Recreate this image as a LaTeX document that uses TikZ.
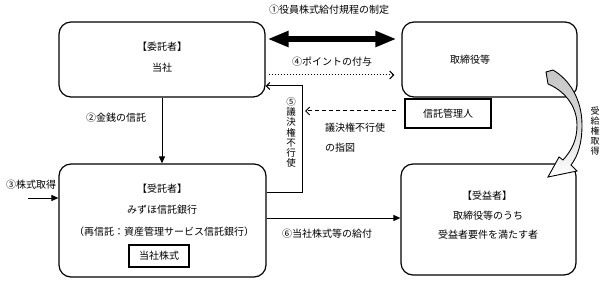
\documentclass[tikz,border=0pt]{standalone}
\usepackage{fontspec}
\newfontfamily\jp{Noto Sans CJK JP}
\usetikzlibrary{arrows.meta}
\begin{document}
\begin{tikzpicture}[x=1pt,y=-1pt,
  box/.style={draw, line width=1.2pt, rounded corners=12pt, inner sep=0pt},
  sqbox/.style={draw, line width=1.1pt, inner sep=0pt, fill=white},
  txt/.style={font=\jp\fontsize{10}{12}\selectfont, inner sep=0pt, anchor=center},
  vtxt/.style={font=\jp\fontsize{9.5}{10.2}\selectfont, inner sep=0pt, align=center},
  conn/.style={line width=1pt},
  fillarrow/.style={-{Triangle[length=7pt,width=6pt]}},
  openarrow/.style={-{Straight Barb[length=3.5pt,width=7pt]}},
]
\useasboundingbox (0,0) rectangle (604,283);

% boxes
\node[box, minimum width=206pt, minimum height=75pt] (b1) at (162,59.5) {};
\node[box, minimum width=175pt, minimum height=75pt] (b2) at (489.5,59.5) {};
\node[sqbox, minimum width=86pt, minimum height=29pt] (tm) at (448,113.5) {};
\node[box, minimum width=207pt, minimum height=113pt] (b3) at (162.5,220.5) {};
\node[sqbox, minimum width=60pt, minimum height=22pt] (kabu) at (159,256) {};
\node[box, minimum width=175pt, minimum height=111pt] (b4) at (488.5,219.5) {};

% box texts
\node[txt] (t1a) at (162,47) {【委託者】};
\node[txt] (t1b) at (162,68) {当社};
\node[txt] (t2) at (470,60) {取締役等};
\node[txt] (ttm) at (448,113.5) {信託管理人};
\node[txt] (t3a) at (162,189) {【受託者】};
\node[txt] (t3b) at (162,210) {みずほ信託銀行};
\node[txt] (t3c) at (164,232) {（再信託：資産管理サービス信託銀行）};
\node[txt] (t3d) at (159,256) {当社株式};
\node[txt] (t4a) at (487,196) {【受益者】};
\node[txt] (t4b) at (488,215.5) {取締役等のうち};
\node[txt] (t4c) at (488,234.5) {受益者要件を満たす者};

% coordinates
\coordinate (y1) at (0,39);
\coordinate (y4) at (0,75);
\coordinate (y5a) at (0,192);
\coordinate (y5b) at (0,86);
\coordinate (c5) at (302,0);
\coordinate (yd) at (0,111);
\coordinate (s3) at (28,198);
\coordinate (y6) at (0,218);

% (1) thick double arrow
\draw[line width=6pt, {Triangle[length=21pt,width=15pt]}-{Triangle[length=21pt,width=15pt]}, shorten <=2pt, shorten >=5pt]
  (b1.east |- y1) -- (b2.west |- y1);
\node[txt] (l1) at (329,10) {①役員株式給付規程の制定};

% (4) dotted
\draw[line width=1pt, dotted, -{Straight Barb[length=4pt,width=8pt]}, shorten <=3pt, shorten >=7pt]
  (b1.east |- y4) -- (b2.west |- y4);
\node[txt] (l4) at (332,62) {④ポイントの付与};

% (5)
\draw[conn, openarrow] (b3.east |- y5a) -| (c5 |- y5b) -- (b1.east |- y5b);
\node[vtxt] (l5) at (291,132.5) {⑤\\議\\決\\権\\不\\行\\使};

% dashed instruction
\draw[conn, dash pattern=on 4pt off 3pt, -{Straight Barb[length=4pt,width=8pt]}]
  ([xshift=-8pt]tm.west |- yd) -- ([xshift=3pt]c5 |- yd);
\node[txt, anchor=west] (ld1) at (325,128) {議決権不行使};
\node[txt, anchor=west] (ld2) at (325,148) {の指図};

% (2)
\draw[conn, fillarrow] (b1.south) -- (b1.south |- b3.north);
\node[txt] (l2) at (116,118) {②金銭の信託};

% (3)
\draw[conn, fillarrow] (s3) -- (s3 -| b3.west);
\node[txt] (l3) at (31,184.5) {③株式取得};

% (6)
\draw[conn, fillarrow] (b3.east |- y6) -- (b4.west |- y6);
\node[txt] (l6) at (327,234) {⑥当社株式等の給付};

% curved arrow
\shade[top color=gray!45, bottom color=white, middle color=gray!30, draw=black, line width=0.9pt, line join=miter]
  (546,72) -- (553,70)
  .. controls (570,80) and (582,100) .. (582,125)
  .. controls (582,143) and (578,156) .. (571,165)
  -- (577,171) -- (548,177) -- (559,157) -- (563,160)
  .. controls (572,150) and (577,140) .. (577,125)
  .. controls (577,105) and (563,90) .. (548,84) -- cycle;
\node[vtxt, font=\jp\fontsize{9}{10}\selectfont] (lr) at (595,131) {受\\給\\権\\取\\得};
\end{tikzpicture}
\end{document}
